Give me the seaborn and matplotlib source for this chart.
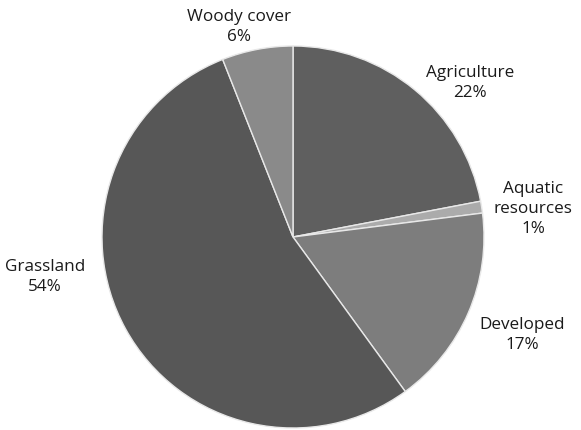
import matplotlib.pyplot as plt
import seaborn as sns

categories = ["Agriculture", "Aquatic\nresources", "Developed", "Grassland", "Woody cover"]
shares = [22, 1, 17, 54, 6]
colors = ["#5f5f5f", "#ababab", "#7d7d7d", "#575757", "#8a8a8a"]

# label centres in pixels (x, y from top)
label_pos = [(470, 83), (533, 209), (522, 335), (45, 277), (239, 27)]

sns.set_theme(style="white")
plt.rcParams['font.family'] = ['Open Sans', 'DejaVu Sans']

fig = plt.figure(figsize=(5.81, 4.31), dpi=100)
ax = fig.add_axes([0, 0, 1, 1])

ax.pie(shares, colors=colors, startangle=90, counterclock=False,
       center=(293, 431 - 238), radius=191, frame=True,
       wedgeprops=dict(edgecolor='#e8e8e8', linewidth=1.0))
ax.set_xlim(0, 581)
ax.set_ylim(0, 431)
ax.set_aspect('equal')
ax.axis('off')

for name, val, (x, y) in zip(categories, shares, label_pos):
    ax.text(x, 431 - y, f"{name}\n{val}%", ha='center', va='center',
            fontsize=12.3, color='#1a1a1a', linespacing=1.32)

fig.savefig("out.png", dpi=100)
